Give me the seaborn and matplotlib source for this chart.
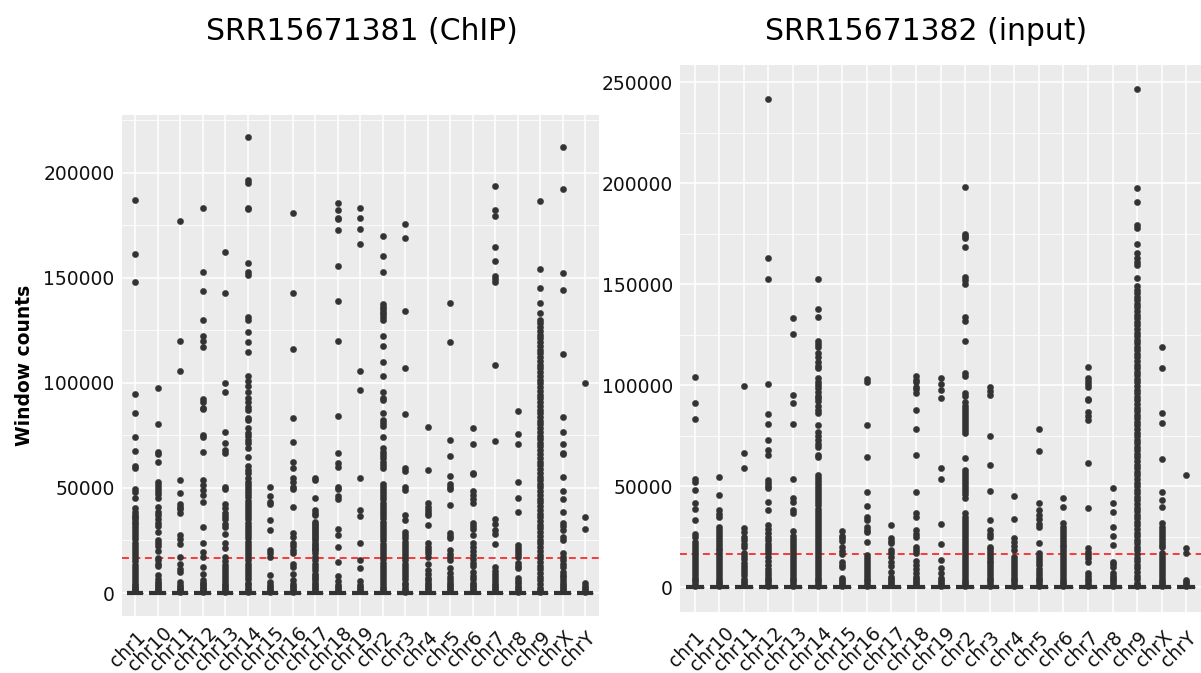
import numpy as np
import pandas as pd
import matplotlib
matplotlib.use("Agg")
import matplotlib.pyplot as plt
import matplotlib.transforms as mtransforms
import seaborn as sns
from matplotlib.ticker import MultipleLocator

# ---------------------------------------------------------------------------
# Window counts per chromosome (non-zero windows, in thousands of reads)
# ---------------------------------------------------------------------------
chromosomes = ["chr1", "chr10", "chr11", "chr12", "chr13", "chr14", "chr15",
               "chr16", "chr17", "chr18", "chr19", "chr2", "chr3", "chr4",
               "chr5", "chr6", "chr7", "chr8", "chr9", "chrX", "chrY"]

# SRR15671381 (ChIP)
chip_chr1 = [187.0, 161.4, 148.0, 94.9, 85.7, 74.0, 67.6, 60.5, 59.4, 49.4, 48.1, 45.2, 40.3, 38.7,
             37.2, 36.3, 35.0, 34.0, 32.8, 31.6, 30.2, 28.4, 27.0, 25.5, 24.0, 22.5, 21.0, 19.5,
             18.0, 16.5, 15.0, 13.5, 12.0, 10.5, 9.0, 7.5, 6.0, 5.0, 4.0, 3.0, 2.2, 1.5, 0.8]
chip_chr10 = [97.6, 80.6, 67.3, 66.2, 62.4, 53.0, 51.5, 50.0, 48.5, 47.0, 45.0, 41.1, 38.7, 37.0,
              35.0, 33.4, 32.0, 29.0, 25.2, 23.6, 22.5, 19.8, 16.8, 15.5, 14.0, 12.8, 8.5, 6.5,
              5.2, 4.2, 3.2, 2.4, 1.5, 0.8]
chip_chr11 = [176.8, 120.0, 105.6, 53.8, 47.5, 42.5, 41.0, 40.0, 38.0, 27.6, 25.5, 23.1, 17.2,
              14.0, 11.6, 10.0, 5.4, 4.0, 3.0, 2.1, 1.2, 0.6]
chip_chr12 = [183.0, 152.7, 143.8, 129.7, 122.2, 120.0, 117.0, 92.2, 91.0, 88.0, 87.4, 75.0, 74.0,
              67.0, 53.8, 51.5, 49.0, 46.6, 43.4, 31.6, 24.0, 19.7, 17.2, 12.5, 9.2, 6.0, 5.0,
              4.2, 3.4, 2.6, 1.8, 1.0, 0.5]
chip_chr13 = [162.1, 142.9, 100.0, 95.4, 76.5, 71.3, 68.2, 66.6, 50.6, 49.4, 42.4, 40.3, 38.0,
              36.5, 35.0, 33.0, 31.6, 28.0, 24.0, 21.6, 17.2, 15.0, 13.5, 12.0, 10.5, 9.0, 7.5,
              6.2, 5.0, 4.0, 3.0, 2.0, 1.0, 0.5]
chip_chr14 = [216.8, 196.5, 195.2, 183.3, 182.5, 157.0, 152.7, 151.1, 131.1, 129.9, 124.1, 119.2,
              114.8, 103.2, 101.0, 98.6, 95.6, 93.0, 91.0, 88.7, 87.1, 83.2, 82.4, 78.4, 76.0,
              74.5, 72.9, 71.3, 68.9, 64.9, 60.2, 58.6, 57.0, 54.6, 53.0, 51.5, 50.0, 48.5, 47.0,
              45.5, 44.0, 42.5, 41.0, 39.5, 38.0, 36.5, 35.0, 33.5, 32.0, 30.5, 29.0, 27.5, 26.0,
              24.5, 23.0, 21.5, 20.0, 18.5, 17.0, 15.5, 14.0, 12.5, 11.0, 9.5, 8.0, 6.5, 5.0,
              3.8, 2.6, 1.5, 0.6]
chip_chr15 = [50.3, 46.2, 43.4, 42.2, 34.7, 30.0, 20.4, 18.8, 17.2, 8.5, 5.3, 4.0, 3.0, 2.0, 1.0, 0.4]
chip_chr16 = [180.8, 142.9, 115.9, 83.2, 71.7, 62.4, 59.7, 54.6, 52.7, 50.3, 49.4, 41.1, 28.4,
              26.8, 24.0, 22.2, 20.5, 18.8, 14.0, 12.5, 9.2, 6.0, 4.5, 3.5, 2.5, 1.5, 0.7]
chip_chr17 = [54.6, 53.8, 45.2, 39.5, 38.0, 37.2, 34.0, 33.0, 32.0, 31.0, 30.0, 29.0, 28.0, 27.0,
              26.0, 25.0, 24.0, 23.0, 22.0, 21.0, 20.4, 18.8, 17.0, 15.6, 14.0, 12.5, 11.0, 9.0,
              8.0, 7.0, 6.0, 5.0, 4.0, 3.0, 2.0, 1.0]
chip_chr18 = [185.6, 182.2, 178.4, 177.8, 172.5, 155.6, 139.0, 120.0, 84.0, 66.5, 62.0, 60.0,
              50.3, 49.4, 46.2, 44.6, 30.6, 27.6, 22.1, 14.6, 8.0, 5.5, 4.0, 3.0, 2.0, 1.0]
chip_chr19 = [183.0, 178.6, 173.3, 166.0, 105.6, 96.7, 54.6, 39.5, 36.8, 23.6, 15.9, 11.9, 5.9,
              4.0, 3.0, 2.0, 1.0]
chip_chr2 = [169.9, 160.3, 152.5, 137.6, 136.3, 135.1, 133.8, 132.5, 131.3, 130.0, 122.2, 117.5,
             109.7, 103.3, 95.5, 92.7, 91.9, 85.8, 82.4, 81.0, 79.5, 74.1, 68.9, 67.3, 65.7,
             64.0, 62.4, 60.8, 59.3, 52.0, 50.5, 49.0, 47.5, 46.0, 44.5, 43.0, 41.5, 40.0, 38.5,
             37.0, 35.5, 34.0, 32.5, 31.0, 29.5, 28.0, 26.5, 25.0, 23.5, 22.0, 20.5, 19.0, 17.5,
             16.0, 14.5, 13.0, 11.5, 10.0, 8.5, 7.0, 5.5, 4.2, 3.0, 1.8, 0.8]
chip_chr3 = [175.6, 168.7, 134.1, 107.0, 85.2, 59.5, 58.0, 50.6, 49.0, 37.2, 34.7, 29.0, 27.5,
             26.0, 24.5, 23.0, 21.5, 20.0, 18.5, 17.0, 15.5, 14.0, 12.5, 11.0, 9.5, 8.0, 6.5,
             5.0, 3.8, 2.6, 1.5, 0.6]
chip_chr4 = [79.2, 58.6, 42.7, 41.0, 39.5, 38.0, 37.2, 32.2, 23.6, 22.0, 20.5, 19.0, 17.2, 14.0,
             11.0, 9.0, 7.0, 6.0, 5.0, 4.0, 3.0, 2.0, 1.0]
chip_chr5 = [138.2, 119.4, 72.9, 65.3, 55.7, 51.7, 50.5, 49.3, 42.0, 28.4, 27.2, 26.0, 20.4, 18.5,
             17.0, 15.9, 12.0, 9.5, 7.5, 6.0, 5.0, 4.0, 3.0, 2.0, 1.0]
chip_chr6 = [78.4, 71.0, 57.3, 56.8, 48.3, 46.5, 44.5, 42.7, 33.2, 31.8, 30.6, 27.6, 23.6, 22.0,
             20.0, 18.0, 16.0, 14.3, 12.7, 10.0, 8.0, 6.5, 5.0, 4.0, 3.0, 2.0, 1.0]
chip_chr7 = [193.7, 182.2, 179.4, 164.6, 157.8, 151.0, 149.4, 148.1, 108.7, 72.5, 35.3, 33.0,
             30.0, 28.0, 23.1, 12.5, 10.5, 9.0, 7.7, 6.0, 5.0, 4.0, 3.0, 2.0, 1.0]
chip_chr8 = [86.8, 75.7, 70.8, 53.0, 45.4, 38.7, 22.9, 21.5, 20.0, 18.5, 17.3, 14.1, 12.8, 11.8,
             7.0, 5.8, 4.6, 3.5, 2.5, 1.5, 0.6]
chip_chr9 = [186.7, 154.3, 145.1, 138.0, 133.0, 130.0, 128.3, 126.4, 124.7, 122.8, 121.1, 119.2,
             117.6, 115.7, 114.0, 112.2, 110.3, 108.6, 106.9, 105.0, 103.2, 101.5, 99.7, 98.0,
             96.1, 94.4, 92.6, 90.8, 89.1, 87.3, 85.5, 83.8, 82.0, 80.2, 78.5, 76.7, 74.9, 73.2,
             71.4, 69.7, 67.8, 66.1, 64.3, 62.5, 60.8, 59.0, 57.3, 55.4, 53.7, 51.9, 50.2, 48.4,
             46.6, 44.8, 43.1, 41.3, 39.6, 37.8, 36.1, 34.2, 32.5, 30.7, 28.9, 27.2, 25.4, 23.6,
             21.9, 20.1, 18.3, 16.6, 14.8, 13.0, 11.3, 9.5, 7.7, 6.0, 4.2, 2.5, 1.2, 0.4]
chip_chrX = [212.4, 192.2, 152.4, 144.1, 113.7, 83.5, 76.8, 70.8, 66.8, 66.2, 55.4, 48.7, 44.8,
             38.4, 33.5, 32.0, 30.0, 26.8, 25.2, 18.9, 17.2, 15.6, 14.0, 12.5, 10.1, 8.8, 7.5,
             6.2, 5.0, 4.0, 3.0, 2.0, 1.0]
chip_chrY = [99.8, 36.3, 30.3, 4.6, 3.5, 2.5, 1.5, 0.7]

# SRR15671382 (input)
input_chr1 = [104.3, 91.4, 83.1, 53.4, 52.2, 48.4, 41.5, 39.0, 33.2, 26.6, 25.0, 22.5, 21.0, 19.5,
              18.0, 16.5, 15.0, 13.5, 12.0, 10.5, 9.0, 7.5, 6.0, 4.8, 3.6, 2.4, 1.2, 0.5]
input_chr10 = [54.8, 45.6, 38.3, 36.5, 35.0, 30.0, 28.5, 27.0, 25.5, 24.0, 22.5, 21.0, 19.5, 18.4,
               17.0, 15.5, 14.0, 12.5, 11.0, 9.5, 8.0, 6.5, 5.0, 3.8, 2.6, 1.5, 0.6]
input_chr11 = [99.7, 66.3, 59.3, 29.2, 27.5, 25.0, 23.4, 21.5, 20.1, 17.0, 15.5, 14.0, 12.0, 10.5,
               9.0, 7.5, 6.0, 4.0, 3.0, 2.0, 1.0]
input_chr12 = [241.9, 162.9, 152.5, 100.6, 85.8, 80.8, 72.9, 68.0, 65.5, 53.1, 51.5, 50.0, 49.0,
               42.4, 38.3, 30.9, 29.0, 27.0, 25.0, 23.4, 21.5, 20.0, 18.5, 17.0, 15.0, 13.0,
               11.0, 9.0, 7.5, 6.0, 4.8, 3.6, 2.4, 1.2, 0.5]
input_chr13 = [133.5, 125.4, 95.0, 91.4, 80.8, 53.4, 44.0, 42.4, 38.3, 36.6, 28.1, 25.5, 24.0,
               22.5, 21.0, 19.5, 18.0, 16.5, 15.0, 13.5, 12.0, 10.5, 9.0, 7.5, 6.0, 4.8, 3.6,
               2.4, 1.2, 0.5]
input_chr14 = [152.5, 137.6, 133.8, 121.9, 120.3, 119.1, 115.8, 114.1, 111.7, 109.5, 108.4, 103.8,
               101.8, 100.3, 98.5, 96.5, 94.7, 93.5, 92.0, 90.0, 88.0, 86.1, 80.3, 77.0, 75.0,
               73.0, 71.0, 69.6, 65.5, 64.7, 55.5, 53.9, 52.5, 51.0, 49.5, 48.0, 46.5, 45.0,
               43.5, 42.0, 40.5, 39.0, 37.5, 36.0, 34.5, 33.0, 31.5, 30.0, 28.5, 27.0, 25.5,
               24.0, 22.5, 21.0, 19.5, 18.0, 16.5, 15.0, 13.5, 12.0, 10.5, 9.0, 7.5, 6.0, 4.8,
               3.6, 2.4, 1.2, 0.5]
input_chr15 = [28.1, 25.6, 24.5, 23.1, 19.8, 18.0, 16.5, 12.4, 11.0, 10.0, 4.5, 3.5, 2.5, 1.5, 0.6]
input_chr16 = [103.1, 101.5, 80.3, 64.7, 47.4, 40.3, 35.0, 33.3, 30.0, 28.5, 27.5, 22.5, 16.0,
               14.5, 13.0, 11.5, 10.0, 8.5, 7.0, 5.5, 4.2, 3.0, 1.8, 0.7]
input_chr17 = [30.6, 24.3, 23.0, 21.8, 18.5, 17.0, 15.2, 12.5, 10.5, 7.6, 5.0, 4.0, 3.0, 2.0, 1.0]
input_chr18 = [104.6, 102.6, 101.8, 99.3, 98.0, 96.0, 87.8, 78.2, 65.5, 47.0, 36.9, 35.0, 28.4,
               26.5, 25.0, 20.1, 18.5, 16.8, 12.8, 11.0, 9.0, 7.0, 5.0, 4.0, 3.0, 2.0, 1.0]
input_chr19 = [103.8, 100.8, 97.5, 93.8, 58.9, 53.4, 31.3, 21.3, 13.7, 9.5, 7.0, 4.5, 3.5, 2.5,
               1.5, 0.6]
input_chr2 = [198.0, 175.0, 174.0, 173.0, 168.7, 153.5, 152.0, 150.0, 134.0, 132.0, 121.9, 105.9,
              104.6, 96.3, 94.5, 91.9, 90.0, 88.5, 87.0, 85.5, 84.0, 82.5, 81.0, 79.5, 78.0, 76.2,
              63.8, 58.1, 56.5, 55.0, 53.5, 52.0, 50.5, 49.0, 47.5, 46.0, 44.0, 36.6, 35.0, 33.5,
              32.0, 30.5, 29.0, 27.5, 26.0, 24.5, 23.0, 21.5, 20.0, 18.5, 17.0, 15.5, 14.0, 12.5,
              11.0, 9.5, 8.0, 6.5, 5.0, 3.8, 2.6, 1.5, 0.6]
input_chr3 = [99.3, 97.2, 95.2, 74.9, 60.5, 47.8, 33.3, 28.4, 26.5, 25.0, 20.1, 18.8, 17.4, 16.0,
              14.6, 13.2, 11.8, 10.4, 9.0, 7.5, 6.0, 4.8, 3.6, 2.4, 1.2, 0.5]
input_chr4 = [45.2, 33.6, 24.3, 22.5, 20.5, 18.3, 15.0, 13.5, 12.0, 10.5, 9.0, 7.5, 6.0, 4.8, 3.6,
              2.4, 1.2, 0.5]
input_chr5 = [78.2, 67.6, 41.9, 38.3, 36.0, 34.0, 31.5, 29.8, 21.9, 16.8, 15.3, 13.8, 12.3, 10.8,
              9.3, 7.8, 6.3, 4.8, 3.6, 2.4, 1.2, 0.5]
input_chr6 = [44.0, 39.9, 31.7, 30.0, 28.5, 27.0, 25.5, 24.0, 22.5, 21.0, 20.1, 18.5, 17.0, 15.5,
              14.0, 12.5, 11.0, 9.5, 8.0, 6.5, 5.0, 3.8, 2.6, 1.5, 0.6]
input_chr7 = [108.9, 103.4, 102.0, 100.5, 99.3, 93.4, 92.7, 86.9, 84.8, 82.7, 61.4, 39.4, 19.3,
              17.6, 16.0, 14.3, 12.7, 7.0, 5.5, 4.2, 3.0, 1.8, 0.7]
input_chr8 = [49.0, 41.9, 37.4, 29.8, 25.3, 20.8, 12.7, 11.3, 10.0, 7.0, 5.8, 4.6, 3.5, 2.4, 1.3, 0.5]
input_chr9 = [246.5, 197.6, 190.9, 179.5, 177.7, 169.8, 165.6, 162.9, 161.2, 159.5, 153.0, 149.0,
              147.3, 145.6, 143.8, 142.1, 140.2, 138.6, 136.7, 135.0, 133.2, 131.5, 129.7, 127.9,
              126.1, 124.4, 122.6, 120.9, 119.0, 117.3, 115.5, 113.8, 112.0, 110.2, 108.4, 106.7,
              104.9, 103.2, 101.4, 99.6, 97.8, 96.1, 94.3, 92.6, 90.8, 89.0, 87.2, 85.5, 83.7,
              82.0, 80.2, 78.4, 76.6, 74.9, 73.1, 71.4, 69.5, 67.8, 66.0, 64.3, 62.5, 60.7, 58.9,
              57.2, 55.4, 53.7, 51.8, 50.1, 48.3, 46.6, 44.8, 43.0, 41.2, 39.5, 37.7, 36.0, 34.1,
              32.4, 30.6, 28.9, 27.1, 25.3, 23.5, 21.8, 20.0, 18.3, 16.4, 14.7, 12.9, 11.2, 9.4,
              7.6, 5.8, 4.1, 2.3, 1.0, 0.4]
input_chrX = [118.8, 108.6, 86.1, 81.1, 63.3, 47.4, 43.3, 40.0, 31.7, 30.0, 28.5, 27.0, 25.5, 24.0,
              22.5, 21.0, 20.1, 16.8, 15.5, 14.0, 12.5, 11.0, 9.5, 8.0, 6.5, 5.0, 3.8, 2.6, 1.5, 0.6]
input_chrY = [55.6, 19.3, 16.8, 3.6, 2.6, 1.6, 0.7]

# Windows with no reads at all, per chromosome (same order as `chromosomes`)
chip_zero_windows = [1950, 1300, 1220, 1200, 1200, 1240, 1030, 980, 950, 910, 610, 1820,
                     1600, 1560, 1520, 1490, 1450, 1290, 1240, 1710, 900]
input_zero_windows = [1950, 1300, 1220, 1200, 1200, 1240, 1030, 980, 950, 910, 610, 1820,
                      1600, 1560, 1520, 1490, 1450, 1290, 1240, 1710, 900]

# Cut-off used to flag enriched windows
count_threshold = 16500

chip_series = [chip_chr1, chip_chr10, chip_chr11, chip_chr12, chip_chr13, chip_chr14,
               chip_chr15, chip_chr16, chip_chr17, chip_chr18, chip_chr19, chip_chr2,
               chip_chr3, chip_chr4, chip_chr5, chip_chr6, chip_chr7, chip_chr8, chip_chr9,
               chip_chrX, chip_chrY]
input_series = [input_chr1, input_chr10, input_chr11, input_chr12, input_chr13, input_chr14,
                input_chr15, input_chr16, input_chr17, input_chr18, input_chr19, input_chr2,
                input_chr3, input_chr4, input_chr5, input_chr6, input_chr7, input_chr8,
                input_chr9, input_chrX, input_chrY]


def build_frame(series, zero_windows):
    rows = []
    for chrom, vals, n_zero in zip(chromosomes, series, zero_windows):
        counts = np.concatenate([np.asarray(vals, dtype=float) * 1000.0, np.zeros(n_zero)])
        rows.append(pd.DataFrame({"chrom": chrom, "count": counts}))
    return pd.concat(rows, ignore_index=True)


chip_df = build_frame(chip_series, chip_zero_windows)
input_df = build_frame(input_series, input_zero_windows)

# ---------------------------------------------------------------------------
# Styling
# ---------------------------------------------------------------------------
sns.set_theme(style="darkgrid")
plt.rcParams["font.family"] = ["DejaVu Sans"]

W, H = 1201, 673
fig = plt.figure(figsize=(W / 100, H / 100), dpi=100)
fig.patch.set_facecolor("white")


def px_axes(x0, y0, x1, y1):
    return fig.add_axes([x0 / W, 1 - y1 / H, (x1 - x0) / W, (y1 - y0) / H])


ax_chip = px_axes(121.5, 114.5, 598.5, 615.8)
ax_input = px_axes(680.0, 64.5, 1201.0, 612.2)

dark = "#333333"
tick_size = 13.5
label_centre_y = 648  # pixel row of the rotated chromosome labels' centres


def draw_panel(ax, df, major_step, axis_bottom_px):
    sns.boxplot(data=df, x="chrom", y="count", order=chromosomes, ax=ax,
                width=0.75, color="white", linecolor=dark, linewidth=1.0,
                saturation=1, showcaps=False,
                flierprops=dict(marker="o", markerfacecolor=dark, markeredgecolor=dark,
                                markersize=4.5, markeredgewidth=0.3),
                medianprops=dict(color=dark, linewidth=3.0),
                whiskerprops=dict(color=dark, linewidth=1.0))
    ax.axhline(count_threshold, color="#FF0000", alpha=0.85, linestyle=(0, (4.0, 2.6)),
               linewidth=1.25, zorder=1.5)

    ymax = df["count"].max()
    pad = 0.05 * ymax
    ax.set_ylim(-pad, ymax + pad)
    ax.set_xlim(-0.6, len(chromosomes) - 0.4)

    ax.set_facecolor("#EBEBEB")
    ax.yaxis.set_major_locator(MultipleLocator(major_step))
    ax.yaxis.set_minor_locator(MultipleLocator(major_step / 2))
    ax.grid(which="major", color="white", linewidth=1.1)
    ax.grid(which="minor", axis="y", color="white", linewidth=0.55)
    ax.set_axisbelow(True)
    for sp in ax.spines.values():
        sp.set_visible(False)

    ax.tick_params(axis="both", which="major", length=3, width=0.8, color=dark,
                   labelsize=tick_size, labelcolor="#111111")
    ax.tick_params(axis="y", which="major", pad=2)
    x_pad_px = label_centre_y - (axis_bottom_px + 3)
    ax.tick_params(axis="x", which="major", pad=x_pad_px * 0.72)
    ax.tick_params(which="minor", length=0)
    ax.yaxis.set_major_formatter(matplotlib.ticker.FuncFormatter(lambda v, _: f"{int(v)}"))
    ax.set_xticks(range(len(chromosomes)))
    ax.set_xticklabels(chromosomes, rotation=45, ha="center", va="center",
                       rotation_mode="anchor")
    shift = mtransforms.ScaledTranslation(-7.5 / 100, 0, fig.dpi_scale_trans)
    for lab in ax.get_xticklabels():
        lab.set_transform(lab.get_transform() + shift)
    ax.set_xlabel("")
    ax.set_ylabel("")


draw_panel(ax_chip, chip_df, 50000, 615.8)
draw_panel(ax_input, input_df, 50000, 612.2)

fig.text(362 / W, 1 - 40 / H, "SRR15671381 (ChIP)", ha="center", va="baseline",
         fontsize=21.5, color="black")
fig.text(926 / W, 1 - 40 / H, "SRR15671382 (input)", ha="center", va="baseline",
         fontsize=21.5, color="black")
fig.text(25 / W, 1 - 365 / H, "Window counts", rotation=90, ha="center", va="center",
         fontsize=13.5, fontweight="bold", color="black")

fig.savefig("out.png", dpi=100, facecolor="white")
